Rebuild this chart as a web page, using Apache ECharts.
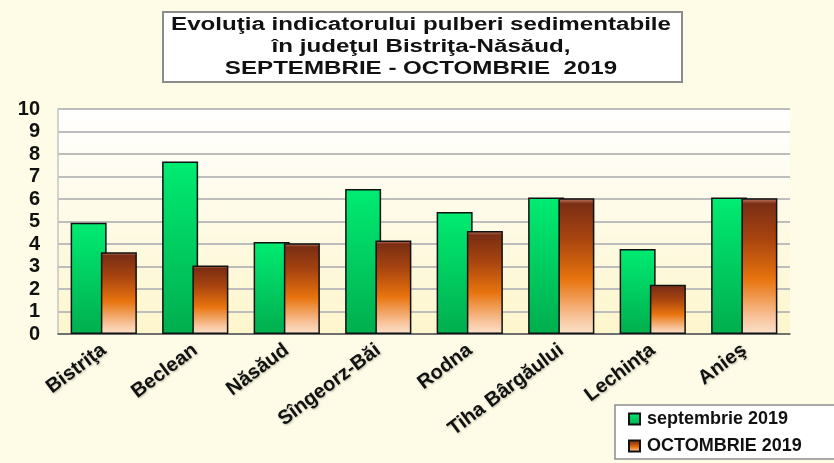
<!DOCTYPE html>
<html>
  <head>
    <meta charset="utf-8" />
    <title>Pulberi sedimentabile</title>
    <script src="https://cdn.jsdelivr.net/npm/echarts@6.0.0/dist/echarts.min.js"></script>
    <style>
      html, body { margin: 0; padding: 0; background: #fefce6; }
      #chart { width: 834px; height: 463px; }
    </style>
  </head>
  <body>
    <div id="chart"></div>
    <script type="text/javascript">
      const stations = ['Bistriţa', 'Beclean', 'Năsăud', 'Sîngeorz-Băi', 'Rodna', 'Tiha Bârgăului', 'Lechinţa', 'Anieş'];
      const septembrie = [4.95, 7.67, 4.09, 6.44, 5.42, 6.07, 3.78, 6.07];
      const octombrie = [3.63, 3.04, 4.03, 4.16, 4.58, 6.03, 2.19, 6.03];
      const seriesNames = ['septembrie 2019', 'OCTOMBRIE 2019'];
      const titleLines = [
        'Evoluţia indicatorului pulberi sedimentabile',
        'în judeţul Bistriţa-Năsăud,',
        'SEPTEMBRIE - OCTOMBRIE  2019'
      ];

      const chart = echarts.init(document.getElementById('chart'));

      const greenFill = new echarts.graphic.LinearGradient(0, 0, 0, 1, [
        { offset: 0, color: '#00ec72' },
        { offset: 1, color: '#00ae4e' }
      ]);
      const brownFill = new echarts.graphic.LinearGradient(0, 0, 0, 1, [
        { offset: 0, color: '#c8806a' },
        { offset: 0.04, color: '#7a2e14' },
        { offset: 0.3, color: '#a8440f' },
        { offset: 0.6, color: '#e8740e' },
        { offset: 0.88, color: '#f8c49c' },
        { offset: 1, color: '#fbe2cc' }
      ]);

      chart.setOption({
        animation: false,
        backgroundColor: '#fefce6',
        textStyle: { fontFamily: 'Liberation Sans, Arial, sans-serif' },
        legend: {
          orient: 'vertical',
          left: 615,
          top: 405,
          padding: [5, 40, 4, 13],
          itemGap: 9,
          itemWidth: 11,
          itemHeight: 11,
          icon: 'rect',
          backgroundColor: '#ffffff',
          borderColor: '#8c8c8c',
          borderWidth: 1.5,
          textStyle: { fontSize: 18, fontWeight: 'bold', color: '#111', padding: [0, 0, 0, 2] },
          data: seriesNames
        },
        grid: { left: 58, right: 44, top: 109, bottom: 129 },
        xAxis: {
          type: 'category',
          data: stations,
          axisLine: { lineStyle: { color: '#555', width: 1.5 } },
          axisTick: { show: false },
          axisLabel: {
            rotate: 37,
            margin: 14,
            interval: 0,
            fontSize: 20,
            fontWeight: 'bold',
            color: '#111',
            textShadowColor: 'rgba(0,0,0,0.25)',
            textShadowBlur: 2,
            textShadowOffsetX: 1,
            textShadowOffsetY: 1
          }
        },
        yAxis: {
          type: 'value',
          min: 0,
          max: 10,
          interval: 1,
          axisLine: { show: true, lineStyle: { color: '#c4c4c4', width: 1.5 } },
          axisTick: { show: false },
          axisLabel: { fontSize: 20, fontWeight: 'bold', color: '#111', margin: 18 },
          splitLine: { lineStyle: { color: '#bdbdbd', width: 2 } },
          splitArea: { show: false }
        },
        graphic: [
          {
            type: 'rect',
            z: -1,
            shape: { x: 58, y: 109, width: 732, height: 225 },
            style: {
              fill: new echarts.graphic.LinearGradient(0, 0, 0, 1, [
                { offset: 0, color: '#ffffff' },
                { offset: 1, color: '#fdf6cc' }
              ])
            }
          },
          {
            type: 'rect',
            shape: { x: 163, y: 12, width: 519, height: 70 },
            style: { fill: '#ffffff', stroke: '#8c8c8c', lineWidth: 2 }
          },
          {
            type: 'text',
            x: 421,
            y: 47,
            scaleX: 1.34,
            style: {
              text: titleLines.join('\n'),
              textAlign: 'center',
              textVerticalAlign: 'middle',
              font: 'bold 18px "Liberation Sans", Arial, sans-serif',
              lineHeight: 22,
              fill: '#111'
            }
          }
        ],
        series: [
          {
            name: seriesNames[0],
            type: 'bar',
            data: septembrie,
            barWidth: 36,
            barGap: '-16%',
            itemStyle: { color: greenFill, borderColor: '#111', borderWidth: 1.5 }
          },
          {
            name: seriesNames[1],
            type: 'bar',
            data: octombrie,
            barWidth: 36,
            itemStyle: { color: brownFill, borderColor: '#111', borderWidth: 1.5 }
          }
        ]
      });
    </script>
  </body>
</html>
